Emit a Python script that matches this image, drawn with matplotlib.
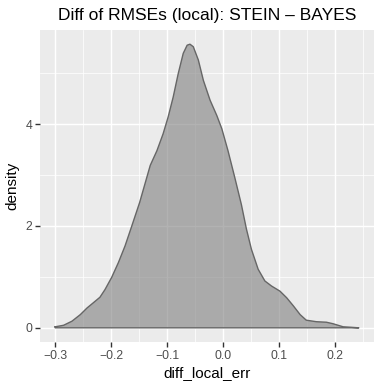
import matplotlib
matplotlib.use("Agg")
import matplotlib.pyplot as plt
import matplotlib.ticker as mticker

# density curve
diff_x = [-0.300, -0.285, -0.270, -0.255, -0.243, -0.232, -0.220, -0.211, -0.199,
          -0.187, -0.175, -0.163, -0.149, -0.130, -0.118, -0.107, -0.098, -0.089,
          -0.080, -0.071, -0.064, -0.059, -0.053, -0.044, -0.035, -0.023, -0.011,
          -0.002, 0.009, 0.021, 0.033, 0.042, 0.051, 0.063, 0.075, 0.087, 0.102,
          0.114, 0.126, 0.138, 0.149, 0.167, 0.185, 0.197, 0.215, 0.230, 0.243]
density = [0.02, 0.05, 0.13, 0.26, 0.39, 0.49, 0.60, 0.75, 0.99,
           1.28, 1.61, 2.00, 2.46, 3.19, 3.48, 3.81, 4.14, 4.53,
           4.99, 5.39, 5.55, 5.57, 5.52, 5.26, 4.86, 4.47, 4.17,
           3.91, 3.48, 2.96, 2.42, 1.94, 1.54, 1.15, 0.92, 0.82, 0.72,
           0.59, 0.43, 0.26, 0.15, 0.12, 0.11, 0.08, 0.02, 0.01, 0.00]

x_ticks = [-0.3, -0.2, -0.1, 0.0, 0.1, 0.2]
y_ticks = [0, 2, 4]

plt.rcParams["font.family"] = ["Liberation Sans", "DejaVu Sans"]

fig = plt.figure(figsize=(3.82, 3.82), dpi=100)
ax = fig.add_axes([40 / 382, 40 / 382, 334 / 382, 312 / 382])
ax.set_facecolor("#EBEBEB")

xs = diff_x + [diff_x[-1], diff_x[0]]
ys = density + [0, 0]
ax.fill(xs, ys, facecolor="#7F7F7F", alpha=0.6, edgecolor="none", zorder=3)
ax.plot(xs + [diff_x[0]], ys + [density[0]], color="#666666", lw=1.0,
        solid_joinstyle="round", zorder=4)

xmin, xmax = min(diff_x), max(diff_x)
xr = xmax - xmin
ymax = max(density)
ax.set_xlim(xmin - 0.05 * xr, xmax + 0.05 * xr)
ax.set_ylim(-0.05 * ymax, ymax * 1.05)

ax.set_xticks(x_ticks)
ax.set_xticklabels(["\u22120.3", "\u22120.2", "\u22120.1", "0.0", "0.1", "0.2"])
ax.set_yticks(y_ticks)
ax.xaxis.set_minor_locator(mticker.MultipleLocator(0.05))
ax.yaxis.set_minor_locator(mticker.MultipleLocator(1))
ax.grid(which="major", color="white", lw=1.07, zorder=0)
ax.grid(which="minor", color="white", lw=0.53, zorder=0)
ax.set_axisbelow(True)
for s in ax.spines.values():
    s.set_visible(False)
ax.tick_params(which="major", length=3.7, width=1.0, color="#333333",
               labelcolor="#4D4D4D", labelsize=8.8, pad=2)
ax.tick_params(which="minor", length=0)

ax.set_xlabel("diff_local_err", fontsize=11, color="black", labelpad=3)
ax.set_ylabel("density", fontsize=11, color="black", labelpad=4)
ax.set_title("Diff of RMSEs (local): STEIN \u2013 BAYES", fontsize=12.5, pad=7)

fig.savefig("out.png", dpi=100)
